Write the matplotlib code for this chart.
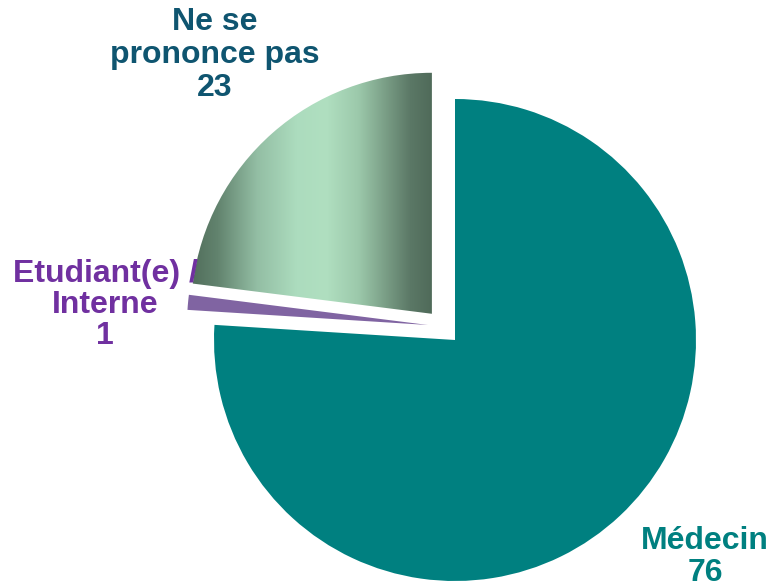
import numpy as np
import matplotlib.pyplot as plt
from matplotlib.colors import LinearSegmentedColormap

categories = ['Médecin', 'Etudiant(e) /\nInterne', 'Ne se\nprononce pas']
values = [76, 1, 23]
colors = ['#008080', '#8064a2', 'none']
label_colors = ['#008080', '#7030a0', '#0f5570']
explode = [0, 0.12, 0.145]

fig = plt.figure(figsize=(7.75, 5.88), dpi=100)
ax = fig.add_axes([0, 0, 1, 1])

wedges, _ = ax.pie(values, colors=colors, explode=explode, startangle=90,
                   counterclock=False, radius=1, center=(0, 0),
                   wedgeprops=dict(linewidth=0))
# small slice sits a bit higher in the original
wedges[1].set_center((-27 / 241, 15 / 241))

# gradient fill for "Ne se prononce pas"
grad = LinearSegmentedColormap.from_list('g', [
    (0.0, '#4d6957'), (0.13, '#62836e'), (0.29, '#93bea4'), (0.45, '#acdcbe'),
    (0.57, '#b0dfc0'), (0.7, '#9cc9ab'), (0.81, '#7a9e86'), (0.91, '#5b7866'),
    (1.0, '#4f6a59')])
w = wedges[2]
x0, x1 = (185 - 455) / 241, (433 - 455) / 241
y0, y1 = (340 - 315) / 241, (340 - 70) / 241
img = ax.imshow(np.linspace(0, 1, 256).reshape(1, -1), cmap=grad, aspect='auto',
                extent=(x0, x1, y0, y1), zorder=1)
img.set_clip_path(w)

ax.set_xlim(-455 / 241, 320 / 241)
ax.set_ylim(-248 / 241, 340 / 241)
ax.axis('off')

fs = 23
ax.text((215 - 455) / 241, (340 - 55) / 241, categories[2] + '\n' + str(values[2]),
        ha='center', va='center', fontsize=fs, fontweight='bold',
        color=label_colors[2], family='Liberation Sans', linespacing=1.12, zorder=5)
ax.text((105 - 455) / 241, (340 - 305) / 241, categories[1] + '\n' + str(values[1]),
        ha='center', va='center', fontsize=fs, fontweight='bold',
        color=label_colors[1], family='Liberation Sans', linespacing=1.05, zorder=5)
ax.text((705 - 455) / 241, (340 - 557) / 241, categories[0] + '\n' + str(values[0]),
        ha='center', va='center', fontsize=fs, fontweight='bold',
        color=label_colors[0], family='Liberation Sans', linespacing=1.05, zorder=5)

fig.savefig('out.png', dpi=100)
